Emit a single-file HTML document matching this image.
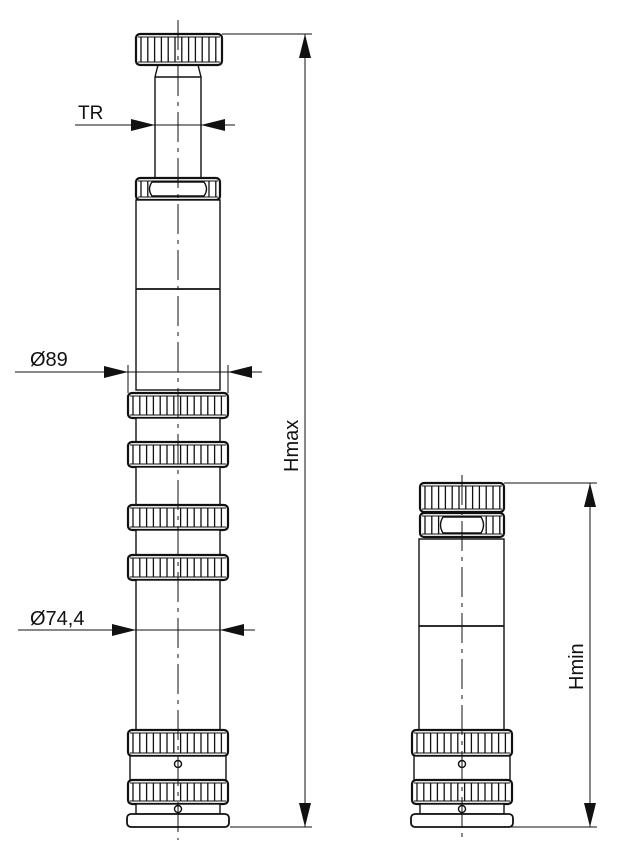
<!DOCTYPE html>
<html><head><meta charset="utf-8">
<style>
html,body{margin:0;padding:0;background:#fff;}
svg{display:block;}
text{font-family:"Liberation Sans",sans-serif;fill:#111;}
</style></head>
<body>
<svg id="s" width="630" height="866" viewBox="0 0 630 866" xmlns="http://www.w3.org/2000/svg">
<g id="g" stroke="#111" fill="none" stroke-width="1.4"></g>
<text x="78" y="119" font-size="19">TR</text>
<text x="30" y="366" font-size="20">Ø89</text>
<text x="30" y="625" font-size="20">Ø74,4</text>
<text transform="translate(298,472) rotate(-90)" font-size="20">Hmax</text>
<text transform="translate(583,690) rotate(-90)" font-size="20">Hmin</text>
</svg>
<script>
var g=document.getElementById('g');var NS='http://www.w3.org/2000/svg';
function el(t,a){var e=document.createElementNS(NS,t);for(var k in a)e.setAttribute(k,a[k]);g.appendChild(e);return e;}
function L(x1,y1,x2,y2,w,d){var a={x1:x1,y1:y1,x2:x2,y2:y2};if(w)a['stroke-width']=w;if(d)a['stroke-dasharray']=d;return el('line',a);}
function R(x,y,w,h,r,sw){return el('rect',{x:x,y:y,width:w,height:h,rx:r||0,'stroke-width':sw||1.4,fill:'#fff'});}
function knurl(x,y,w,h,gapFrom,gapTo){R(x,y,w,h,4,2.2);L(x+2,y+3,x+w-2,y+3,1);L(x+2,y+h-3,x+w-2,y+h-3,1);
 for(var i=x+5;i<x+w-3;i+=6.8){if(gapFrom!==undefined&&i>gapFrom&&i<gapTo)continue;L(i,y+3,i,y+h-3,1.3);}}
function arrowH(x,y,dir){var p=dir>0?[x,y,x-24,y-6,x-24,y+6]:[x,y,x+24,y-6,x+24,y+6];el('polygon',{points:p.join(' '),fill:'#111',stroke:'none'});}
function arrowV(x,y,dir){var p=dir>0?[x,y,x-6,y-24,x+6,y-24]:[x,y,x-6,y+24,x+6,y+24];el('polygon',{points:p.join(' '),fill:'#111',stroke:'none'});}
function base(cx,yTop){
 var x=cx-50,w=100;
 knurl(x,yTop,w,26);
 R(x+2,yTop+26,w-4,24);
 el('circle',{cx:cx,cy:yTop+34,r:3.5,fill:'#fff'});
 knurl(x,yTop+50,w,24);
 R(x+8,yTop+74,w-16,10);
 el('circle',{cx:cx,cy:yTop+79,r:3.5,fill:'#fff'});
 R(x-1,yTop+84,w+2,13,4,1.8);
}
var c=178;
knurl(136,34,86,31);
el('path',{d:'M158 65 L155 77 L155 178 M198 65 L201 77 L201 178 M155 77 L201 77'});
knurl(136,178,84,22,150,205);
el('path',{d:'M152 182 Q147 189 152 196 L204 196 Q209 189 204 182 Z'});
R(136,200,84,190);L(136,289,220,289,1.8);
knurl(128,393,100,25);
R(136,418,84,24);
knurl(128,442,100,25);
R(136,467,84,38);
knurl(128,505,100,25);
R(136,530,84,25);
knurl(128,555,100,25);
R(136,580,84,150);
base(c,730);
L(c,20,c,840,1,'30 6 4 6');
var c2=462;
knurl(420,483,84,29);
knurl(420,513,84,24,440,485);
el('path',{d:'M443 517 Q438 525 443 533 L481 533 Q486 525 481 517 Z'});
R(419,539,85,191);L(419,626,504,626,1.8);
base(c2,730);
L(c2,475,c2,840,1,'30 6 4 6');
L(222,34,312,34,1);L(230,827,312,827,1);L(305,34,305,827,1);arrowV(305,34,-1);arrowV(305,827,1);
L(504,483,597,483,1);L(504,827,597,827,1);L(590,483,590,827,1);arrowV(590,483,-1);arrowV(590,827,1);
L(75,125,235,125,1);arrowH(155,125,1);arrowH(201,125,-1);
L(15,372,262,372,1);L(128,365,128,393,1);L(228,365,228,393,1);arrowH(128,372,1);arrowH(228,372,-1);
L(18,630,255,630,1);arrowH(136,630,1);arrowH(220,630,-1);
</script>
</body></html>
